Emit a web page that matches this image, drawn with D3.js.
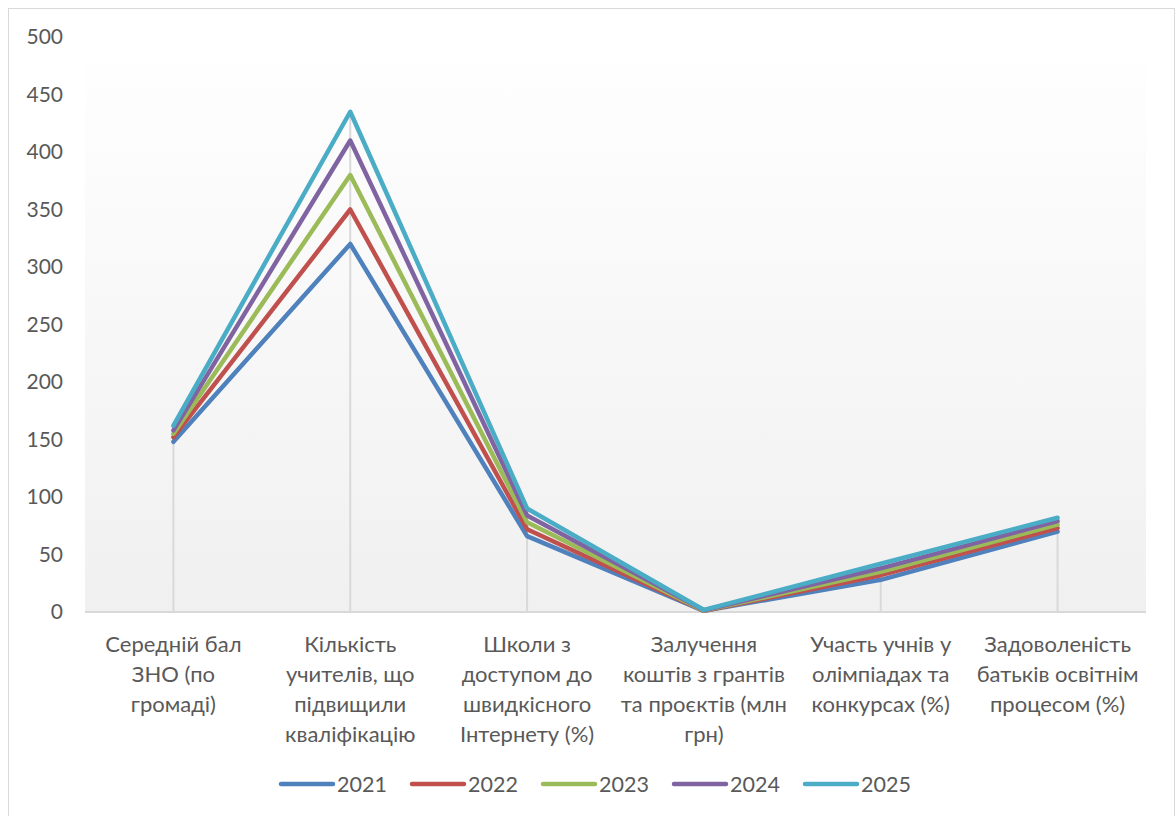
<!DOCTYPE html>
<html>
<head>
<meta charset="utf-8">
<script src="https://cdn.jsdelivr.net/npm/d3@7"></script>
<style>
  body { margin: 0; background: #fff; }
  text { font-family: Lato, "Open Sans", sans-serif; fill: #595959; }
</style>
</head>
<body>
<script>
var categories = [
  ["Середній бал", "ЗНО (по", "громаді)"],
  ["Кількість", "учителів, що", "підвищили", "кваліфікацію"],
  ["Школи з", "доступом до", "швидкісного", "Інтернету (%)"],
  ["Залучення", "коштів з грантів", "та проєктів (млн", "грн)"],
  ["Участь учнів у", "олімпіадах та", "конкурсах (%)"],
  ["Задоволеність", "батьків освітнім", "процесом (%)"]
];
var years = ["2021", "2022", "2023", "2024", "2025"];
var v2021 = [148, 320, 66, 1, 28, 70];
var v2022 = [152, 350, 72, 1, 32, 73];
var v2023 = [155, 380, 78, 1.2, 35, 76];
var v2024 = [158, 410, 84, 1.5, 38, 79];
var v2025 = [162, 435, 90, 1.8, 42, 82];
var yTicks = [0, 50, 100, 150, 200, 250, 300, 350, 400, 450, 500];
var colors = ["#4F81BD", "#C0504D", "#9BBB59", "#8064A2", "#4BACC6"];

var series = [v2021, v2022, v2023, v2024, v2025];

var W = 1176, H = 816;
var svg = d3.select("body").append("svg")
    .attr("width", W)
    .attr("height", H);

// gradient for plot area
var grad = svg.append("defs").append("linearGradient")
    .attr("id", "bg")
    .attr("x1", 0).attr("y1", 0).attr("x2", 0).attr("y2", 1);
grad.append("stop").attr("offset", "0%").attr("stop-color", "#ffffff");
grad.append("stop").attr("offset", "100%").attr("stop-color", "#f0f0f0");

// outer border
svg.append("rect")
    .attr("x", 8.5).attr("y", 8.5)
    .attr("width", 1166).attr("height", 820)
    .attr("fill", "#fff")
    .attr("stroke", "#d9d9d9");

var pLeft = 85, pRight = 1146, pTop = 37, pBottom = 612;

var x = d3.scalePoint()
    .domain(d3.range(categories.length))
    .range([pLeft, pRight])
    .padding(0.5);

var y = d3.scaleLinear()
    .domain([0, 500])
    .range([pBottom, pTop]);

// plot area
svg.append("rect")
    .attr("x", pLeft).attr("y", pTop)
    .attr("width", pRight - pLeft).attr("height", pBottom - pTop)
    .attr("fill", "url(#bg)");

// drop lines
svg.selectAll(".drop")
    .data(d3.range(categories.length))
    .enter().append("line")
      .attr("class", "drop")
      .attr("x1", function(d){ return x(d); })
      .attr("x2", function(d){ return x(d); })
      .attr("y1", function(d){ return y(d3.max(series, function(s){ return s[d]; })); })
      .attr("y2", y(0))
      .attr("stroke", "#d9d9d9")
      .attr("stroke-width", 2);

// x axis line
svg.append("line")
    .attr("x1", pLeft).attr("x2", pRight)
    .attr("y1", y(0)).attr("y2", y(0))
    .attr("stroke", "#d9d9d9")
    .attr("stroke-width", 2);

// y tick labels
svg.selectAll(".ytick")
    .data(yTicks)
    .enter().append("text")
      .attr("class", "ytick")
      .attr("x", 63)
      .attr("y", function(d){ return y(d); })
      .attr("dy", "0.35em")
      .attr("text-anchor", "end")
      .attr("font-size", "21px")
      .text(function(d){ return d; });

// category labels
var catG = svg.selectAll(".cat")
    .data(categories)
    .enter().append("text")
      .attr("class", "cat")
      .attr("text-anchor", "middle")
      .attr("font-size", "22px");
catG.selectAll("tspan")
    .data(function(d, i){ return d.map(function(t){ return {t: t, i: i}; }); })
    .enter().append("tspan")
      .attr("x", function(d){ return x(d.i); })
      .attr("y", function(d, j){ return 652 + j * 30; })
      .text(function(d){ return d.t; });

// lines
var line = d3.line()
    .x(function(d, i){ return x(i); })
    .y(function(d){ return y(d); });

svg.selectAll(".series")
    .data(series)
    .enter().append("path")
      .attr("class", "series")
      .attr("d", line)
      .attr("fill", "none")
      .attr("stroke", function(d, i){ return colors[i]; })
      .attr("stroke-width", 4.5)
      .attr("stroke-linejoin", "round")
      .attr("stroke-linecap", "round");

// legend
var legend = svg.selectAll(".legend")
    .data(years)
    .enter().append("g")
      .attr("class", "legend")
      .attr("transform", function(d, i){ return "translate(" + (281 + i * 131) + ",784)"; });
legend.append("line")
    .attr("x1", 0).attr("x2", 52)
    .attr("y1", 0).attr("y2", 0)
    .attr("stroke", function(d, i){ return colors[i]; })
    .attr("stroke-width", 4.5)
    .attr("stroke-linecap", "round");
legend.append("text")
    .attr("x", 56)
    .attr("y", 0)
    .attr("dy", "0.35em")
    .attr("font-size", "21.5px")
    .text(function(d){ return d; });
</script>
</body>
</html>
